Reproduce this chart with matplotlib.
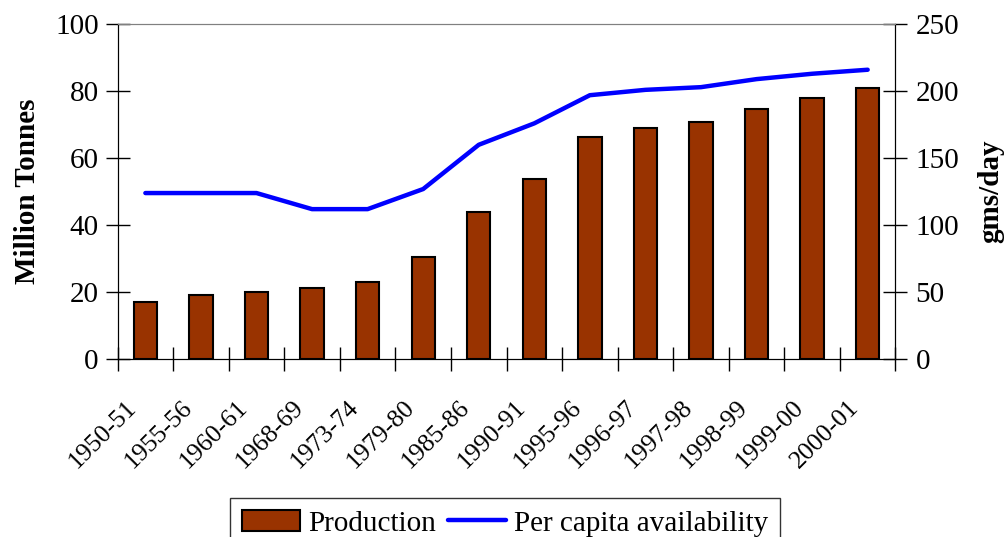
import matplotlib
matplotlib.use("Agg")
import matplotlib.pyplot as plt
import matplotlib.transforms as mtransforms
import numpy as np

# ============================
# Data
# ============================
years = ["1950-51", "1955-56", "1960-61", "1968-69", "1973-74", "1979-80", "1985-86",
         "1990-91", "1995-96", "1996-97", "1997-98", "1998-99", "1999-00", "2000-01"]
production = [17.0, 19.1, 20.0, 21.2, 23.2, 30.4, 44.0, 53.9, 66.2, 69.1, 70.8, 74.7, 78.1, 80.9]
per_capita = [124, 124, 124, 112, 112, 127, 160, 176, 197, 201, 203, 209, 213, 216]

plt.rcParams["font.family"] = ["Liberation Serif", "DejaVu Serif"]
FS = 21

fig = plt.figure(figsize=(10.05, 5.37), dpi=100)
ax1 = fig.add_axes([0.117, 0.331, 0.774, 0.624])
ax2 = ax1.twinx()

x = np.arange(len(years))
bars = ax1.bar(x, production, width=0.42, color="#993300", edgecolor="black",
               linewidth=1.5, label="Production", zorder=2)
line, = ax2.plot(x, per_capita, color="#0000FF", linewidth=3.2,
                 solid_capstyle="round", label="Per capita availability", zorder=3)

ax1.set_xlim(-0.5, len(years) - 0.5)
ax1.set_ylim(0, 100)
ax2.set_ylim(0, 250)
ax1.set_yticks(np.arange(0, 101, 20))
ax2.set_yticks(np.arange(0, 251, 50))

# category labels at centres, tick marks between categories
ax1.set_xticks(x)
ax1.set_xticklabels(years, rotation=45, ha="right", va="top",
                    rotation_mode="anchor", fontsize=18.5)
ax1.tick_params(axis="x", which="major", length=0, pad=27)
ax1.set_xticks(np.arange(-0.5, len(years), 1), minor=True)
ax1.tick_params(axis="x", which="minor", length=17, direction="inout", width=1)
shift = mtransforms.ScaledTranslation(-20 / 100, 0, fig.dpi_scale_trans)
for lbl in ax1.get_xticklabels():
    lbl.set_transform(lbl.get_transform() + shift)

ax1.tick_params(axis="y", labelsize=FS, length=17, width=1, direction="inout", pad=5)
ax2.tick_params(axis="y", labelsize=FS, length=17, width=1, direction="inout", pad=6)

ax1.set_ylabel("Million Tonnes", fontsize=FS, fontweight="bold", labelpad=10)
ax2.set_ylabel("gms/day", fontsize=FS, fontweight="bold", labelpad=13)

for a in (ax1, ax2):
    a.spines["top"].set_color("#808080")
    a.spines["left"].set_color("black")
    a.spines["right"].set_color("black")
    a.spines["bottom"].set_color("black")

leg = fig.legend([bars, line], ["Production", "Per capita availability"],
                 loc="upper center", bbox_to_anchor=(0.5025, 0.0726), ncol=2,
                 fontsize=FS, frameon=True, fancybox=False, edgecolor="black",
                 handlelength=2.0, handleheight=0.75, handletextpad=0.27,
                 columnspacing=0.4, borderpad=0.4, borderaxespad=0.0)
leg.get_frame().set_linewidth(1)

fig.savefig("out.png", dpi=100)
